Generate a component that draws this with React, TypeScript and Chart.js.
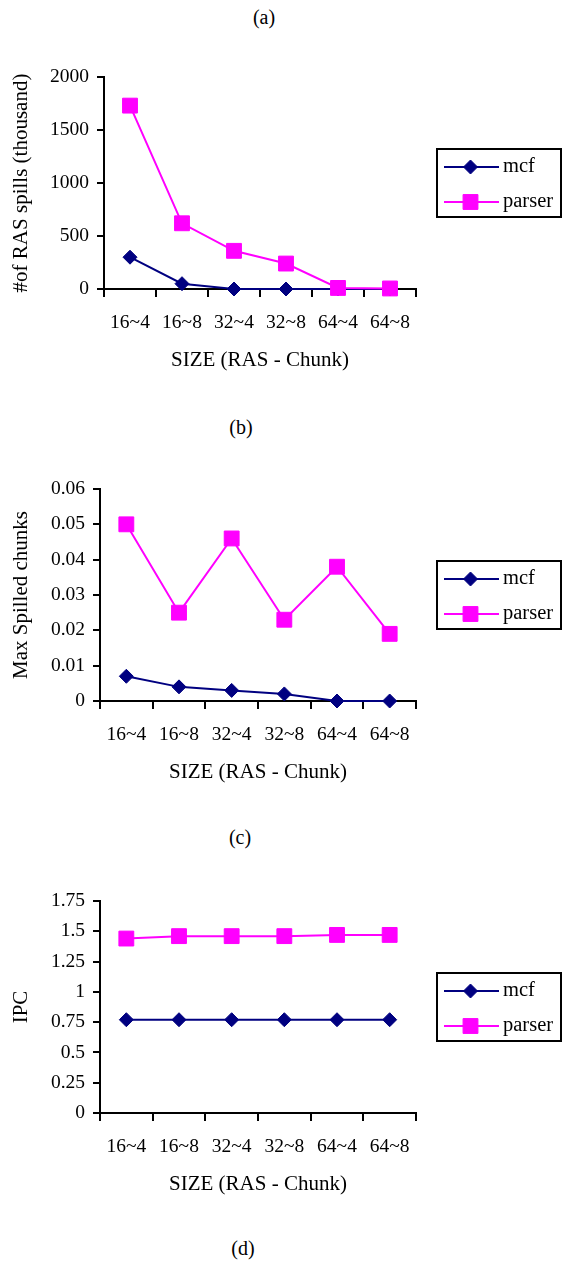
import React, { useEffect, useRef } from "react";
import { Chart, registerables } from "chart.js";
Chart.register(...registerables);

const categories = ["16~4", "16~8", "32~4", "32~8", "64~4", "64~8"];
const seriesNames = ["mcf", "parser"];
const spillsMcf = [300, 50, 0, 0, 0, 0];
const spillsParser = [1730, 620, 360, 240, 10, 5];
const spilledMcf = [0.007, 0.004, 0.003, 0.002, 0, 0];
const spilledParser = [0.05, 0.025, 0.046, 0.023, 0.038, 0.019];
const ipcMcf = [0.77, 0.77, 0.77, 0.77, 0.77, 0.77];
const ipcParser = [1.44, 1.46, 1.46, 1.46, 1.47, 1.47];
const spillsTicks = [0, 500, 1000, 1500, 2000];
const spilledTicks = [0, 0.01, 0.02, 0.03, 0.04, 0.05, 0.06];
const ipcTicks = [0, 0.25, 0.5, 0.75, 1, 1.25, 1.5, 1.75];
const xTitle = "SIZE (RAS - Chunk)";
const yTitles = ["#of RAS spills (thousand)", "Max Spilled chunks", "IPC"];
const captions = ["(a)", "(b)", "(c)", "(d)"];

const NAVY = "#000080";
const MAGENTA = "#FF00FF";
const FAMILY = "'Liberation Serif', 'Times New Roman', serif";
const W = 563;
const H = 333;
const PLOT_TOP = 20;
const PLOT_BOTTOM = 232;
const PLOT_RIGHT = 416;

function drawMarker(ctx: CanvasRenderingContext2D, style: string, x: number, y: number, r: number, color: string) {
  ctx.save();
  ctx.fillStyle = color;
  ctx.strokeStyle = color;
  ctx.lineWidth = 1;
  ctx.beginPath();
  if (style === "rectRot") {
    ctx.moveTo(x - r, y);
    ctx.lineTo(x, y - r);
    ctx.lineTo(x + r, y);
    ctx.lineTo(x, y + r);
    ctx.closePath();
  } else {
    const s = Math.SQRT1_2 * r;
    ctx.rect(x - s, y - s, 2 * s, 2 * s);
  }
  ctx.fill();
  ctx.stroke();
  ctx.restore();
}

const boxLegend = {
  id: "boxLegend",
  afterDraw(chart: any) {
    const ctx: CanvasRenderingContext2D = chart.ctx;
    const ca = chart.chartArea;
    const cy = (ca.top + ca.bottom) / 2;
    const top = cy - 34;
    ctx.save();
    ctx.strokeStyle = "#000";
    ctx.lineWidth = 2;
    ctx.strokeRect(437, top, 124, 68);
    const rows = [cy - 16, cy + 19];
    chart.data.datasets.forEach((ds: any, i: number) => {
      const y = rows[i];
      ctx.strokeStyle = ds.borderColor;
      ctx.lineWidth = 2;
      ctx.beginPath();
      ctx.moveTo(444, y);
      ctx.lineTo(499, y);
      ctx.stroke();
      drawMarker(ctx, ds.pointStyle, 470.5, y, ds.pointRadius, ds.borderColor);
      ctx.fillStyle = "#000";
      ctx.font = `20.5px ${FAMILY}`;
      ctx.textBaseline = "middle";
      ctx.textAlign = "left";
      ctx.fillText(ds.label, 503, y);
    });
    ctx.restore();
  },
};

type PanelProps = {
  top: number;
  plotLeft: number;
  yTitle: string;
  mcf: number[];
  parser: number[];
  ticks: number[];
};

function Panel({ top, plotLeft, yTitle, mcf, parser, ticks }: PanelProps) {
  const ref = useRef<HTMLCanvasElement | null>(null);
  useEffect(() => {
    if (!ref.current) return;
    const tickFont = { family: FAMILY, size: 19.5 };
    const titleFont = { family: FAMILY, size: 21 };
    const chart = new Chart(ref.current, {
      type: "line",
      data: {
        labels: categories,
        datasets: [
          {
            label: seriesNames[0],
            data: mcf,
            borderColor: NAVY,
            backgroundColor: NAVY,
            borderWidth: 2,
            pointStyle: "rectRot",
            pointRadius: 7,
            pointBorderWidth: 1,
            pointBackgroundColor: NAVY,
            pointBorderColor: NAVY,
            tension: 0,
            clip: false,
            order: 1,
          } as any,
          {
            label: seriesNames[1],
            data: parser,
            borderColor: MAGENTA,
            backgroundColor: MAGENTA,
            borderWidth: 2,
            pointStyle: "rect",
            pointRadius: 10.5,
            pointBorderWidth: 1,
            pointBackgroundColor: MAGENTA,
            pointBorderColor: MAGENTA,
            tension: 0,
            clip: false,
            order: 0,
          } as any,
        ],
      },
      options: {
        responsive: false,
        animation: false,
        layout: { padding: { left: 0, top: PLOT_TOP, right: W - PLOT_RIGHT, bottom: 0 } },
        plugins: {
          legend: { display: false },
          tooltip: { enabled: false },
        },
        scales: {
          x: {
            type: "category",
            offset: true,
            grid: { offset: true, drawOnChartArea: false, drawTicks: true, tickLength: 8, color: "#000", lineWidth: 2 },
            border: { display: true, color: "#000", width: 2 },
            ticks: { color: "#000", font: tickFont, padding: 14.6, maxRotation: 0, autoSkip: false },
            title: { display: true, text: xTitle, color: "#000", font: titleFont, padding: { top: 0, bottom: 17.4 } },
            afterFit: (s: any) => {
              s.height = H - PLOT_BOTTOM;
            },
          },
          y: {
            min: ticks[0],
            max: ticks[ticks.length - 1],
            afterBuildTicks: (s: any) => {
              s.ticks = ticks.map((v) => ({ value: v }));
            },
            grid: { drawOnChartArea: false, drawTicks: true, tickLength: 7, color: "#000", lineWidth: 2 },
            border: { display: true, color: "#000", width: 2 },
            ticks: { color: "#000", font: tickFont, padding: 8, callback: (v: any) => String(v) },
            title: { display: true, text: yTitle, color: "#000", font: titleFont, padding: { top: 8.9, bottom: 0 } },
            afterFit: (s: any) => {
              s.width = plotLeft;
            },
          },
        },
      } as any,
      plugins: [boxLegend],
    });
    return () => chart.destroy();
  }, []);
  return (
    <canvas
      ref={ref}
      width={W}
      height={H}
      style={{ position: "absolute", left: 0, top, width: W, height: H }}
    />
  );
}

const captionPos = [
  [264, 17],
  [241, 427],
  [240, 837],
  [243, 1248],
];

export default function App() {
  return (
    <div style={{ position: "absolute", left: 0, top: 0, width: W, height: 1261, background: "#fff", overflow: "hidden" }}>
      {captions.map((c, i) => (
        <div
          key={c}
          style={{
            position: "absolute",
            left: captionPos[i][0],
            top: captionPos[i][1],
            transform: "translate(-50%, -50%)",
            fontFamily: FAMILY,
            fontSize: 20,
            lineHeight: "24px",
            color: "#000",
            whiteSpace: "nowrap",
          }}
        >
          {c}
        </div>
      ))}
      <Panel top={57} plotLeft={104} yTitle={yTitles[0]} mcf={spillsMcf} parser={spillsParser} ticks={spillsTicks} />
      <Panel top={469} plotLeft={100} yTitle={yTitles[1]} mcf={spilledMcf} parser={spilledParser} ticks={spilledTicks} />
      <Panel top={881} plotLeft={100} yTitle={yTitles[2]} mcf={ipcMcf} parser={ipcParser} ticks={ipcTicks} />
    </div>
  );
}
